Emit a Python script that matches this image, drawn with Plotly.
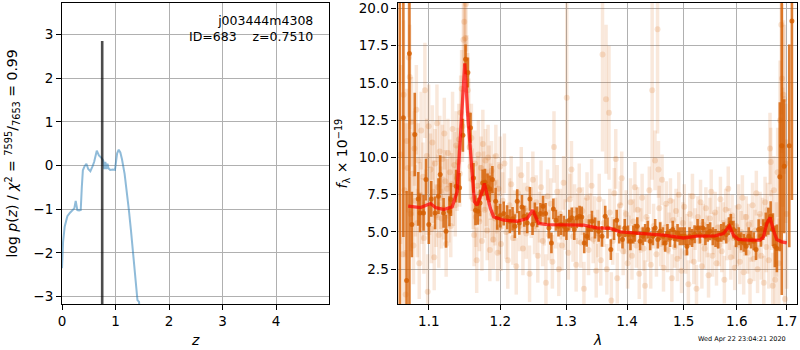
import plotly.graph_objects as go

# ---------------- left panel: redshift PDF ----------------
z_grid = [0.0, 0.02, 0.05, 0.10, 0.15, 0.20, 0.23, 0.256, 0.287, 0.32, 0.35, 0.37, 0.39, 0.42,
          0.456, 0.49, 0.53, 0.57, 0.60, 0.65, 0.69, 0.74, 0.77, 0.79, 0.81, 0.83, 0.85, 0.87,
          0.90, 0.95, 0.99, 1.03, 1.06, 1.09, 1.12, 1.17, 1.21, 1.25, 1.29, 1.33, 1.36, 1.38,
          1.41, 1.44, 1.45]
log_pz = [-2.35, -1.75, -1.40, -1.16, -1.08, -1.02, -0.98, -0.81, -1.02, -1.03, -1.02, -0.50, -0.11, -0.02,
          0.04, -0.08, -0.13, -0.02, 0.08, 0.34, 0.23, 0.17, 0.12, -0.08, 0.08, -0.08, 0.04, -0.07,
          -0.10, -0.09, -0.10, 0.28, 0.36, 0.30, 0.15, -0.19, -0.55, -1.02, -1.50, -2.00, -2.35, -2.60,
          -3.08, -3.12, -3.50]
z_best_line_x = [0.751, 0.751]
z_best_line_y = [-3.17, 2.85]

# ---------------- right panel: 1D spectrum ----------------
faint_wave = [1.0630, 1.0655, 1.0668, 1.0680, 1.0695, 1.0710, 1.0722, 1.0735, 1.0748, 1.0760, 1.0772, 1.0785,
              1.0797, 1.0810, 1.0822, 1.0835, 1.0848, 1.0860, 1.0873, 1.0885, 1.0898, 1.0910, 1.0923, 1.0935,
              1.0948, 1.0960, 1.0973, 1.0985, 1.0998, 1.1010, 1.1023, 1.1035, 1.1048, 1.1060, 1.1073, 1.1085,
              1.1098, 1.1110, 1.1123, 1.1135, 1.1148, 1.1160, 1.1173, 1.1185, 1.1198, 1.1210, 1.1223, 1.1235,
              1.1248, 1.1260, 1.1273, 1.1285, 1.1298, 1.1310, 1.1323, 1.1335, 1.1348, 1.1360, 1.1373, 1.1385,
              1.1398, 1.1410, 1.1423, 1.1435, 1.1448, 1.1460, 1.1473, 1.1485, 1.1498, 1.1510, 1.1523, 1.1535,
              1.1548, 1.1560, 1.1573, 1.1585, 1.1598,
              1.1610, 1.1623, 1.1635, 1.1648, 1.1660, 1.1673, 1.1685, 1.1698, 1.1710, 1.1723, 1.1735, 1.1748,
              1.1760, 1.1773, 1.1785, 1.1798, 1.1810, 1.1823, 1.1835, 1.1848, 1.1860, 1.1873, 1.1885, 1.1898,
              1.1910, 1.1923, 1.1935, 1.1948, 1.1960, 1.1973, 1.1985, 1.1998,
              1.2010, 1.2035, 1.2060, 1.2085, 1.2110, 1.2135, 1.2160, 1.2185, 1.2210, 1.2235, 1.2260, 1.2285,
              1.2310, 1.2335, 1.2360, 1.2385, 1.2410, 1.2435, 1.2460, 1.2485, 1.2510, 1.2535, 1.2560, 1.2585,
              1.2610, 1.2635, 1.2660, 1.2685, 1.2710, 1.2735, 1.2760, 1.2785, 1.2810, 1.2835, 1.2860, 1.2885,
              1.2910, 1.2935, 1.2960, 1.2985, 1.3010, 1.3035, 1.3060, 1.3085, 1.3110, 1.3135, 1.3160, 1.3185,
              1.3210, 1.3235, 1.3260, 1.3285, 1.3310, 1.3335, 1.3360, 1.3385, 1.3410, 1.3435, 1.3460, 1.3485,
              1.3510, 1.3535, 1.3560, 1.3589, 1.3610, 1.3648, 1.3660, 1.3697, 1.3710, 1.3735, 1.3760, 1.3785,
              1.3810, 1.3835, 1.3860, 1.3885, 1.3910, 1.3935, 1.3960, 1.3985, 1.4010, 1.4035, 1.4060, 1.4085,
              1.4110, 1.4135, 1.4160, 1.4185, 1.4210, 1.4235, 1.4260, 1.4285, 1.4310, 1.4335, 1.4360, 1.4385,
              1.4410, 1.4435, 1.4460, 1.4485, 1.4510, 1.4530, 1.4546, 1.4560, 1.4585, 1.4610, 1.4635, 1.4660,
              1.4685, 1.4710, 1.4735, 1.4760, 1.4785, 1.4810, 1.4835, 1.4860, 1.4885, 1.4910, 1.4935, 1.4960,
              1.4985, 1.5010, 1.5035, 1.5060, 1.5085, 1.5110, 1.5135, 1.5160, 1.5185, 1.5210, 1.5235, 1.5260,
              1.5285, 1.5310, 1.5335, 1.5360, 1.5385, 1.5410, 1.5435, 1.5460, 1.5485, 1.5510, 1.5535, 1.5560,
              1.5585, 1.5610, 1.5635, 1.5660, 1.5685, 1.5710, 1.5735, 1.5760, 1.5785, 1.5810, 1.5835, 1.5860,
              1.5885, 1.5910, 1.5935, 1.5960, 1.5985,
              1.6010, 1.6035, 1.6060, 1.6085, 1.6110, 1.6135, 1.6160, 1.6185, 1.6210, 1.6235, 1.6260, 1.6285,
              1.6310, 1.6335, 1.6360, 1.6385, 1.6410, 1.6435, 1.6460, 1.6485, 1.6510, 1.6535, 1.6560, 1.6585,
              1.6610, 1.6635, 1.6660, 1.6675, 1.6690, 1.6715, 1.6740, 1.6765, 1.6790, 1.6815, 1.6840, 1.6865,
              1.6890, 1.6905, 1.6920, 1.6935, 1.6950, 1.6965, 1.6980, 1.7000]
faint_flux = [10.2, 3.5, 14.2, 7.8, 0.8, 11.1, 9.3, 16.7, 15.4, 6.2, 12.4, 8.9,
              4.1, 10.6, 7.1, 13.2, 5.6, 9.8, 2.9, 7.5, 11.8, 6.4, 8.7, 4.6,
              14.5, 7.0, 10.1, 1.0, 12.1, 6.9, 9.2, 5.2, 11.0, 7.7, 3.3, 9.6,
              6.1, 12.3, 8.0, 4.8, 10.4, 7.3, 5.9, 9.9, 6.6, 11.6, 8.4, 4.2,
              7.9, 10.3, 6.3, 9.0, 5.4, 8.2, 11.9, 7.4, 9.5, 6.8, 10.8, 8.6,
              9.7, 11.2, 8.9, 13.0, 14.6, 12.1, 17.9, 19.1, 18.0, 20.3, 15.6, 14.5,
              12.9, 10.7, 9.4, 11.3, 8.5,
              7.2, 4.8, 9.6, 6.0, 3.1, 8.1, 10.2, 5.7, 7.6, 9.3, 4.4, 10.9,
              8.4, 6.5, 9.8, 7.3, 5.1, 10.0, 8.8, 3.8, 7.7, 9.1, 6.2, 4.5,
              8.3, 5.9, 10.1, 6.7, 3.6, 7.9, 5.3, 9.4,
              4.2, 7.1, 9.6, 5.0, 3.1, 6.8, 8.2, 4.6, 6.1, 2.7, 7.6, 5.4,
              8.8, 3.9, 6.6, 4.9, 7.9, 2.2, 6.3, 8.5, 5.2, 7.0, 3.4, 6.0,
              8.0, 4.4, 5.8, 1.6, 7.4, 4.8, 6.9, 3.0, 10.7, 5.6, 7.7, 2.5,
              6.2, 4.1, 8.3, 5.5, 14.0, 3.6, 7.2, 9.2, 4.7, 6.5, 2.8, 5.9,
              7.8, 4.3, 6.4, 1.2, 5.7, 7.3, 3.8, 6.0, 8.1, 4.5, 5.8, 2.4,
              4.9, 7.2, 3.1, 16.9, 5.6, 13.9, 2.5, 13.0, 6.3, 0.4, 4.4, 7.6,
              9.9, 1.9, 5.3, 6.8, 8.6, 3.7, 5.0, 6.2, 2.9, 4.6, 7.0, 3.4,
              5.7, 8.0, 4.1, 6.5, 2.2, 5.1, 7.3, 3.9, 1.4, 6.0, 4.5, 7.8,
              2.8, 14.5, 5.4, 9.8, 3.5, 18.6, 9.2, 6.6, 4.2, 8.5, 2.6, 5.3,
              6.9, 3.8, 4.9, 7.1, 1.9, 5.8, 4.0, 6.4, 3.2, 7.5, 4.6, 2.4,
              5.6, 6.7, 3.6, 4.8, 1.5, 6.2, 4.3, 7.4, 3.0, 5.2, 1.2, 6.0,
              4.4, 7.0, 2.7, 5.5, 3.9, 6.6, 4.7, 2.1, 5.9, 7.7, 3.4, 4.9,
              6.3, 2.9, 5.3, 4.1, 7.2, 3.7, 5.6, 1.8, 6.5, 4.5, 7.9, 5.2,
              3.3, 6.1, 4.6, 2.6, 5.4,
              4.1, 6.7, 3.0, 5.0, 7.3, 2.3, 4.8, 6.0, 3.6, 5.5, 1.7, 4.4,
              6.8, 3.2, 5.1, 7.6, 2.5, 4.7, 6.2, 3.4, 5.7, 1.6, 7.0, 4.0,
              6.5, 3.1, 10.6, 9.7, 5.8, 1.4, 7.8, 1.8, 4.5, 9.0, 2.9, 12.5,
              18.9, 15.3, 10.7, 14.2, 13.9, 0.5, 9.6, 6.2]
faint_err = [6.0, 4.0, 5.0, 4.5, 3.0, 3.5, 3.0, 4.0, 3.5, 2.5, 3.0, 2.8,
             2.6, 2.5, 2.4, 3.0, 2.3, 2.5, 2.4, 2.2, 2.6, 2.2, 2.3, 2.4,
             3.2, 2.2, 2.5, 2.5, 2.8, 2.1, 2.4, 2.3, 2.5, 2.1, 2.2, 2.3,
             2.1, 2.6, 2.2, 2.2, 2.4, 2.1, 2.0, 2.3, 2.1, 2.4, 2.1, 2.2,
             2.0, 2.3, 2.0, 2.2, 2.1, 2.1, 2.5, 2.0, 2.2, 2.1, 2.3, 2.2,
             2.3, 2.4, 2.2, 2.5, 2.6, 2.4, 2.8, 3.0, 2.8, 3.2, 2.6, 2.5,
             2.4, 2.3, 2.2, 2.3, 2.1,
             2.0, 2.1, 2.2, 2.0, 2.2, 2.0, 2.3, 2.0, 1.9, 2.1, 2.0, 2.3,
             2.0, 1.9, 2.1, 1.9, 2.0, 2.2, 2.0, 2.1, 1.9, 2.0, 1.9, 2.0,
             1.9, 1.8, 2.1, 1.8, 1.9, 1.8, 1.8, 2.0,
             1.8, 1.9, 2.0, 1.8, 1.9, 1.8, 1.9, 1.8, 1.7, 1.9, 1.8, 1.7,
             1.9, 1.8, 1.7, 1.7, 1.8, 1.9, 1.7, 1.9, 1.7, 1.8, 1.8, 1.7,
             1.8, 1.7, 1.7, 1.9, 1.8, 1.7, 1.7, 1.8, 2.4, 1.7, 1.8, 1.8,
             1.7, 1.7, 1.8, 1.7, 7.0, 1.8, 1.7, 1.9, 1.7, 1.7, 1.8, 1.7,
             1.8, 1.7, 1.6, 1.8, 1.6, 1.7, 1.7, 1.6, 1.8, 1.6, 1.6, 1.8,
             1.6, 1.7, 1.7, 6.5, 1.6, 5.0, 1.7, 4.5, 1.6, 1.9, 1.6, 1.7,
             2.0, 1.7, 1.6, 1.6, 1.8, 1.6, 1.5, 1.6, 1.7, 1.5, 1.6, 1.6,
             1.5, 1.7, 1.5, 1.5, 1.7, 1.5, 1.6, 1.5, 1.7, 1.5, 1.5, 1.6,
             1.6, 6.0, 1.5, 2.0, 1.5, 7.0, 1.9, 1.5, 1.5, 1.7, 1.6, 1.5,
             1.5, 1.5, 1.4, 1.5, 1.6, 1.4, 1.4, 1.5, 1.5, 1.5, 1.4, 1.5,
             1.4, 1.5, 1.4, 1.4, 1.6, 1.4, 1.4, 1.5, 1.5, 1.4, 1.6, 1.4,
             1.4, 1.5, 1.5, 1.4, 1.4, 1.4, 1.4, 1.5, 1.4, 1.5, 1.4, 1.4,
             1.4, 1.5, 1.4, 1.4, 1.5, 1.4, 1.4, 1.6, 1.4, 1.4, 1.5, 1.4,
             1.5, 1.4, 1.4, 1.5, 1.4,
             1.4, 1.5, 1.5, 1.4, 1.5, 1.5, 1.4, 1.4, 1.4, 1.4, 1.6, 1.4,
             1.5, 1.5, 1.4, 1.5, 1.6, 1.5, 1.5, 1.6, 1.6, 1.8, 1.7, 1.7,
             1.8, 1.9, 2.4, 2.3, 2.0, 2.2, 2.3, 2.5, 2.5, 3.0, 3.0, 4.0,
             6.0, 5.0, 4.0, 5.0, 5.0, 4.0, 4.0, 5.0]

wave = [1.0619, 1.0665, 1.0707, 1.0744, 1.0776, 1.0814, 1.0860, 1.0884, 1.0930, 1.0963, 1.1000, 1.1033,
        1.1084, 1.1130, 1.1154, 1.1200, 1.1233, 1.1280, 1.1300, 1.1373, 1.1420, 1.1466, 1.1503, 1.1536,
        1.1573, 1.1615, 1.1643, 1.1675, 1.1708, 1.1745, 1.1778, 1.1815, 1.1848, 1.1885, 1.1932, 1.1955,
        1.2000, 1.2050, 1.2100, 1.2140, 1.2180, 1.2215, 1.2250, 1.2280, 1.2320, 1.2355, 1.2400, 1.2440,
        1.2480, 1.2515, 1.2550, 1.2600, 1.2640, 1.2680, 1.2730, 1.2770, 1.2800, 1.2840, 1.2880, 1.2920,
        1.2965, 1.3005, 1.3050, 1.3090, 1.3130, 1.3170, 1.3215, 1.3250, 1.3290, 1.3330, 1.3365, 1.3415,
        1.3465, 1.3525, 1.3580, 1.3634, 1.3672, 1.3727, 1.3781, 1.3825, 1.3869, 1.3923, 1.3962, 1.4018,
        1.4059, 1.4106, 1.4135, 1.4176, 1.4224, 1.4271, 1.4312, 1.4359, 1.4400, 1.4447, 1.4488, 1.4535,
        1.4576, 1.4624, 1.4665, 1.4706, 1.4753, 1.4800, 1.4841, 1.4888, 1.4929, 1.4976, 1.5018, 1.5059,
        1.5106, 1.5153, 1.5200, 1.5255, 1.5299, 1.5350, 1.5401, 1.5446, 1.5490, 1.5541, 1.5592, 1.5643,
        1.5700, 1.5745, 1.5796, 1.5847, 1.5885, 1.5936, 1.5987, 1.6039, 1.6085, 1.6137, 1.6183, 1.6235,
        1.6280, 1.6333, 1.6379, 1.6431, 1.6477, 1.6523, 1.6575, 1.6627, 1.6673, 1.6719, 1.6758, 1.6800,
        1.6860, 1.6900, 1.6950, 1.7055, 1.7110]
flux = [21.0, 12.66, 1.75, 16.98, 5.50, 11.54, 7.22, 6.28, 6.28, 8.52, 5.50, 7.22,
        6.28, 7.40, 8.85, 6.28, 5.05, 6.39, 7.18, 8.07, 7.96, 11.49, 16.58, 15.70,
        11.99, 8.63, 6.46, 6.39, 6.95, 8.29, 8.34, 8.03, 7.89, 8.52, 7.06, 5.95,
        6.10, 6.24, 5.99, 5.72, 5.88, 5.39, 7.06, 5.61, 6.68, 6.06, 5.61, 7.22,
        5.50, 6.28, 6.01, 6.24, 6.73, 6.24, 5.27, 4.27, 6.55, 5.79, 5.39, 5.50,
        5.39, 5.16, 5.79, 5.95, 5.16, 5.95, 6.06, 6.01, 4.27, 4.71, 5.16, 5.72,
        5.27, 5.05, 4.71, 6.06, 5.27, 3.82, 5.16, 5.79, 4.83, 4.49, 5.27, 4.83,
        4.38, 4.83, 4.94, 5.39, 4.38, 4.71, 4.94, 5.16, 4.38, 4.71, 5.27, 4.49,
        5.05, 4.71, 4.27, 4.94, 4.60, 5.16, 4.54, 4.94, 4.71, 4.71, 4.71, 4.04,
        4.71, 4.60, 4.85, 5.27, 4.83, 5.27, 4.71, 4.94, 5.05, 4.71, 4.60, 4.49,
        4.94, 5.05, 4.83, 5.39, 5.61, 5.16, 4.60, 4.71, 4.38, 4.27, 4.04, 4.71,
        4.49, 4.38, 3.82, 5.16, 4.71, 5.16, 5.50, 5.72, 6.06, 5.16, 4.04, 3.90,
        8.70, 10.78, 9.41, 10.78, 19.15]
err = [22.0, 8.0, 6.0, 17.0, 2.2, 2.8, 1.8, 1.3, 1.2, 1.4, 1.3, 1.2,
       1.1, 1.2, 1.3, 1.0, 1.1, 1.0, 1.1, 1.1, 1.0, 1.1, 1.0, 1.0,
       1.0, 1.0, 1.0, 0.9, 0.9, 0.9, 0.9, 0.9, 0.9, 0.9, 0.9, 0.8,
       0.8, 0.8, 0.8, 0.8, 0.8, 0.8, 0.8, 0.8, 0.8, 0.7, 0.7, 0.8,
       0.7, 0.7, 0.7, 0.7, 0.7, 0.7, 0.7, 0.7, 0.7, 0.7, 0.7, 0.7,
       0.7, 0.7, 0.7, 0.7, 0.7, 0.7, 0.7, 0.7, 0.7, 0.7, 0.7, 0.7,
       0.7, 0.7, 0.7, 0.7, 0.7, 0.7, 0.7, 0.7, 0.6, 0.6, 0.6, 0.6,
       0.6, 0.6, 0.6, 0.6, 0.6, 0.6, 0.6, 0.6, 0.6, 0.6, 0.6, 0.6,
       0.6, 0.6, 0.6, 0.6, 0.6, 0.6, 0.6, 0.6, 0.6, 0.6, 0.6, 0.6,
       0.6, 0.6, 0.6, 0.6, 0.6, 0.6, 0.6, 0.6, 0.6, 0.6, 0.6, 0.6,
       0.6, 0.6, 0.6, 0.6, 0.6, 0.6, 0.6, 0.6, 0.6, 0.6, 0.6, 0.6,
       0.6, 0.6, 0.7, 0.7, 0.7, 0.7, 0.8, 0.9, 1.0, 1.1, 1.4, 1.6,
       5.0, 10.0, 4.5, 6.8, 12.0]

model_wave = [1.0728, 1.0890, 1.1023, 1.1090, 1.1202, 1.1317, 1.1386, 1.1442, 1.1492, 1.1539, 1.1596,
              1.1628, 1.1666, 1.1737, 1.1770, 1.1809, 1.1856, 1.1904, 1.2050, 1.2247, 1.2397, 1.2482,
              1.2573, 1.2702, 1.2961, 1.3279, 1.3498, 1.3717, 1.3885, 1.4343, 1.4635, 1.4995, 1.5241,
              1.5584, 1.5742, 1.5857, 1.5935, 1.6032, 1.6228, 1.6460, 1.6527, 1.6595, 1.6662, 1.6729,
              1.6798, 1.6900, 1.7003]
model_flux = [6.73, 6.64, 6.91, 6.64, 6.51, 6.68, 7.69, 12.5, 16.31, 12.5, 8.81,
              7.02, 6.80, 7.69, 8.26, 7.58, 6.58, 6.01, 5.79, 5.72, 5.90, 6.46,
              5.57, 5.50, 5.46, 5.46, 5.28, 5.24, 5.01, 4.90, 4.79, 4.60, 4.72,
              4.74, 4.90, 5.39, 4.79, 4.50, 4.45, 4.45, 4.67, 5.57, 5.97, 5.12,
              4.50, 4.34, 4.27]

wave_ticks = [1.1, 1.2, 1.3, 1.4, 1.5, 1.6, 1.7]
wave_ticktext = ["1.1", "1.2", "1.3", "1.4", "1.5", "1.6", "1.7"]
flux_ticks = [2.5, 5.0, 7.5, 10.0, 12.5, 15.0, 17.5, 20.0]

obj_root = "j003444m4308"
obj_label = "ID=683\u00a0\u00a0\u00a0\u00a0z=0.7510"
timestamp = "Wed Apr 22 23:04:21 2020"

ORANGE = "213,94,0"
FONT = "DejaVu Sans"

fig = go.Figure()

fig.add_trace(go.Scatter(x=z_grid, y=log_pz, mode="lines",
                         line=dict(color="rgba(31,119,180,0.5)", width=2),
                         xaxis="x", yaxis="y", hoverinfo="skip"))
fig.add_trace(go.Scatter(x=z_best_line_x, y=z_best_line_y, mode="lines",
                         line=dict(color="rgba(0,0,0,0.7)", width=2.6),
                         xaxis="x", yaxis="y", hoverinfo="skip"))

fig.add_trace(go.Scatter(x=faint_wave, y=faint_flux, mode="markers",
                         marker=dict(color=f"rgba({ORANGE},0.17)", size=6, line=dict(width=0)),
                         error_y=dict(type="data", array=faint_err, color=f"rgba({ORANGE},0.14)",
                                      thickness=3.5, width=0),
                         xaxis="x2", yaxis="y2", hoverinfo="skip"))
fig.add_trace(go.Scatter(x=wave, y=flux, mode="markers",
                         marker=dict(color=f"rgba({ORANGE},0.8)", size=5, line=dict(width=0)),
                         error_y=dict(type="data", array=err, color=f"rgba({ORANGE},0.8)",
                                      thickness=2.6, width=0),
                         xaxis="x2", yaxis="y2", hoverinfo="skip"))
fig.add_trace(go.Scatter(x=model_wave, y=model_flux, mode="lines",
                         line=dict(color="rgba(255,0,0,0.7)", width=3.3),
                         xaxis="x2", yaxis="y2", hoverinfo="skip"))

axis_common = dict(showline=True, linecolor="black", linewidth=1.1, mirror=True,
                   ticks="outside", ticklen=5, tickwidth=1.1, tickcolor="black",
                   showgrid=True, gridcolor="#b0b0b0", gridwidth=1.1, zeroline=False,
                   automargin=False,
                   tickfont=dict(family=FONT, size=13.5, color="black"))

title_font = dict(family=FONT, size=14, color="black")

fig.update_layout(
    width=800, height=350,
    margin=dict(l=62, r=3, t=3, b=46, autoexpand=False),
    paper_bgcolor="white", plot_bgcolor="white",
    showlegend=False,
    font=dict(family=FONT, size=13.5, color="black"),
    xaxis=dict(domain=[0, 0.3633], range=[0, 4.99], tickvals=[0, 1, 2, 3, 4], **axis_common),
    yaxis=dict(domain=[0, 1], range=[-3.17, 3.72], tickvals=[-3, -2, -1, 0, 1, 2, 3], **axis_common),
    xaxis2=dict(domain=[0.4565, 1], type="log", range=[0.02488, 0.23594],
                tickvals=wave_ticks, ticktext=wave_ticktext, anchor="y2", **axis_common),
    yaxis2=dict(domain=[0, 1], range=[0.17, 20.36], tickvals=flux_ticks, tickformat=".1f",
                anchor="x2", **axis_common),
    annotations=[
        dict(text=obj_root + "<br>" + obj_label, xref="x domain", yref="y domain",
             x=0.948, y=0.975, xanchor="right", yanchor="top", align="right", showarrow=False,
             font=dict(family=FONT, size=12.5, color="black")),
        dict(text="<i>z</i>", xref="paper", yref="paper", x=0.1823, y=-0.1196,
             xanchor="center", yanchor="middle", showarrow=False, font=title_font),
        dict(text="<i>λ</i>", xref="paper", yref="paper", x=0.7279, y=-0.1196,
             xanchor="center", yanchor="middle", showarrow=False, font=title_font),
        dict(text="log <i>p</i>(<i>z</i>) / <i>χ</i><sup>2</sup> = "
                  "<sup>7595</sup>/<sub>7653</sub> = 0.99",
             xref="paper", yref="paper", x=-0.068, y=0.5, textangle=-90,
             xanchor="center", yanchor="middle", showarrow=False, font=title_font),
        dict(text="<i>f</i><sub>λ</sub> × 10<sup>−19</sup>",
             xref="paper", yref="paper", x=0.381, y=0.5, textangle=-90,
             xanchor="center", yanchor="middle", showarrow=False, font=title_font),
        dict(text=timestamp, xref="paper", yref="paper", x=0.9878, y=-0.1163,
             xanchor="right", yanchor="middle", showarrow=False,
             font=dict(family=FONT, size=6.5, color="black")),
    ],
)

fig.write_html("out.html", config={"displayModeBar": False},
               post_script="document.body.style.margin='0px';document.body.style.padding='0px';")
